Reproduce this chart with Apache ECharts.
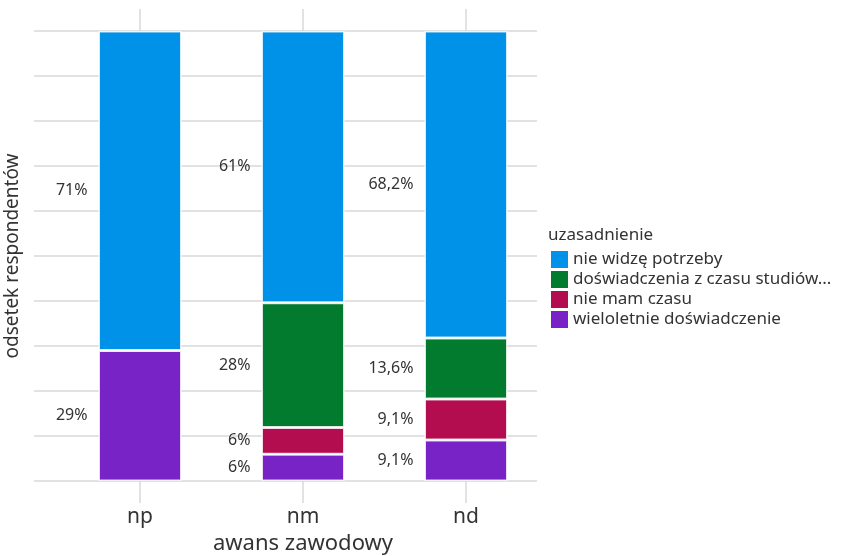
<!DOCTYPE html>
<html>
<head>
<meta charset="utf-8">
<script src="https://cdn.jsdelivr.net/npm/echarts@6/dist/echarts.min.js"></script>
<style>
  html, body { margin: 0; padding: 0; background: #fff; }
  #chart { width: 843px; height: 556px; }
</style>
</head>
<body>
<div id="chart"></div>
<script>
// Career-promotion groups along the x axis
const categories = ['np', 'nm', 'nd'];

// Reasons (stacked bottom to top) and their shares in each group, in %
const reasons = ['wieloletnie doświadczenie', 'nie mam czasu', 'doświadczenia z czasu studiów...', 'nie widzę potrzeby'];
const wieloletnie = [29, 6, 9.1];
const nieMamCzasu = [0, 6, 9.1];
const studia = [0, 28, 13.6];
const nieWidze = [71, 61, 68.2];

const legendOrder = ['nie widzę potrzeby', 'doświadczenia z czasu studiów...', 'nie mam czasu', 'wieloletnie doświadczenie'];
const colors = {
  'wieloletnie doświadczenie': '#7723C5',
  'nie mam czasu': '#B30D4F',
  'doświadczenia z czasu studiów...': '#027B2F',
  'nie widzę potrzeby': '#0091E8'
};

const seriesValues = [wieloletnie, nieMamCzasu, studia, nieWidze];
// column totals, so each bar fills the full 0–100 range
const totals = categories.map((_, i) => seriesValues.reduce((s, arr) => s + arr[i], 0));

const FONT = 'Noto Sans';
const TEXT = '#333';
const GRID_LINE = { color: '#d9d9d9', width: 1.5 };
const fmt = v => String(v).replace('.', ',') + '%';

const series = reasons.map((name, k) => ({
  name,
  type: 'bar',
  stack: 'total',
  xAxisIndex: 0,
  yAxisIndex: 0,
  barWidth: 83,
  itemStyle: { color: colors[name], borderColor: 'rgba(255,255,255,0.8)', borderWidth: 1.5 },
  label: {
    show: true,
    position: 'left',
    distance: 11,
    color: TEXT,
    fontFamily: FONT,
    fontSize: 16,
    formatter: p => (p.data.raw ? fmt(p.data.raw) : '')
  },
  data: categories.map((c, i) => ({
    value: seriesValues[k][i] / totals[i] * 100,
    raw: seriesValues[k][i]
  }))
}));

const chart = echarts.init(document.getElementById('chart'));
chart.setOption({
  backgroundColor: '#fff',
  animation: false,
  textStyle: { fontFamily: FONT },
  title: {
    text: 'uzasadnienie',
    left: 543,
    top: 222,
    textStyle: { fontFamily: FONT, fontSize: 17, fontWeight: 'normal', color: TEXT }
  },
  legend: {
    orient: 'vertical',
    left: 546,
    top: 246,
    itemWidth: 17,
    itemHeight: 17,
    itemGap: 3,
    icon: 'rect',
    data: legendOrder,
    itemStyle: { borderWidth: 0 },
    textStyle: { fontFamily: FONT, fontSize: 17, color: TEXT }
  },
  grid: [
    // bars
    { left: 58.5, right: 295.5, top: 31, bottom: 75, outerBoundsMode: 'none', containLabel: false },
    // horizontal reference lines
    { left: 34, right: 306, top: 31, bottom: 75, outerBoundsMode: 'none', containLabel: false }
  ],
  xAxis: [
    {
      type: 'category',
      gridIndex: 0,
      position: 'bottom',
      data: categories,
      axisLine: { show: false },
      splitLine: { show: false },
      axisTick: { show: true, alignWithLabel: true, length: 22, lineStyle: GRID_LINE },
      axisLabel: { margin: 26, fontFamily: FONT, fontSize: 21, color: TEXT },
      name: 'awans zawodowy',
      nameLocation: 'middle',
      nameGap: 52,
      nameTextStyle: { fontFamily: FONT, fontSize: 22, color: TEXT }
    },
    {
      type: 'category',
      gridIndex: 0,
      position: 'top',
      data: categories,
      axisLine: { show: false },
      splitLine: { show: false },
      axisTick: { show: true, alignWithLabel: true, length: 22, lineStyle: GRID_LINE },
      axisLabel: { show: false }
    },
    {
      type: 'value',
      gridIndex: 1,
      show: false
    }
  ],
  yAxis: [
    {
      type: 'value',
      gridIndex: 0,
      min: 0,
      max: 100,
      show: false
    },
    {
      type: 'value',
      gridIndex: 1,
      min: 0,
      max: 100,
      interval: 10,
      axisLine: { show: false },
      axisTick: { show: false },
      axisLabel: { show: false },
      splitLine: { show: true, lineStyle: GRID_LINE },
      name: 'odsetek respondentów',
      nameLocation: 'middle',
      nameGap: 12,
      nameTextStyle: { fontFamily: FONT, fontSize: 19, color: TEXT }
    }
  ],
  series
});
</script>
</body>
</html>
